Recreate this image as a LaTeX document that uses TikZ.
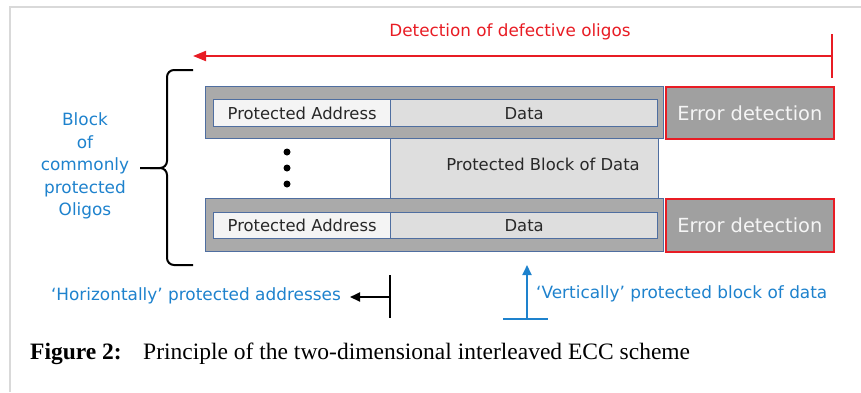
\documentclass[tikz,border=0pt]{standalone}
\usepackage{fontspec}
\setmainfont{Liberation Serif}
\newfontfamily\diagfont{DejaVu Sans}
\usetikzlibrary{arrows.meta}
\definecolor{boxblue}{RGB}{79,110,160}
\definecolor{bandgray}{RGB}{170,170,170}
\definecolor{cellgray}{RGB}{222,222,222}
\definecolor{addrwhite}{RGB}{244,244,244}
\definecolor{errgray}{RGB}{160,160,160}
\definecolor{txtblue}{RGB}{30,130,205}
\definecolor{detred}{RGB}{232,28,36}
\definecolor{celltext}{RGB}{40,40,40}
\begin{document}
\begin{tikzpicture}[x=1pt, y=-1pt,
    cell/.style = {draw=boxblue, line width=1.3pt, inner sep=0pt, anchor=north west, text=celltext,
                   font=\diagfont\fontsize{16.4}{18}\selectfont},
    band/.style = {cell, fill=bandgray, minimum width=458pt},
    errbox/.style = {draw=detred, fill=errgray, line width=1.6pt, inner sep=0pt, anchor=north west,
                   minimum width=168pt, text=white!92!gray, font=\diagfont\fontsize{19.4}{22}\selectfont},
    bluetext/.style = {text=txtblue, inner sep=0pt, font=\diagfont\fontsize{16.9}{22.5}\selectfont}]
    \useasboundingbox (0,0) rectangle (861,392);
    \draw[black!15, line width=1.5pt] (10,392) -- (10,7) -- (861,7);
    % rows
    \node[band, minimum height=52pt] (band1) at (205,86) {};
    \node[band, minimum height=53pt] (band2) at (205,198) {};
    \node[cell, fill=cellgray, minimum width=268pt, minimum height=60pt] (block) at (390,138) {};
    \node[inner sep=0pt, text=celltext, font=\diagfont\fontsize{16.4}{18}\selectfont] (blocklbl) at (543,164) {Protected Block of Data};
    \node[cell, fill=addrwhite, minimum width=177pt, minimum height=27pt] (addr1) at (213,99) {Protected Address};
    \node[cell, fill=cellgray, minimum width=267pt, minimum height=27pt] (data1) at (390,99) {Data};
    \node[cell, fill=addrwhite, minimum width=177pt, minimum height=26pt] (addr2) at (213,212) {Protected Address};
    \node[cell, fill=cellgray, minimum width=267pt, minimum height=26pt] (data2) at (390,212) {Data};
    \node[errbox, minimum height=52pt] (err1) at (665,86) {Error detection};
    \node[errbox, minimum height=53pt] (err2) at (665,198) {Error detection};
    \foreach \i/\y in {1/152,2/168,3/184}
        \node[circle, fill, inner sep=0pt, minimum size=7pt] (dot\i) at (287,\y) {};
    % detection arrow
    \node[text=detred, inner sep=0pt, font=\diagfont\fontsize{16.8}{18}\selectfont] (detlbl) at (510,32) {Detection of defective oligos};
    \coordinate (detR) at (832,56);
    \coordinate (detL) at (193,56);
    \draw[detred, line width=2pt, -{Triangle[length=13pt,width=10pt]}] (detR) -- (detL);
    \draw[detred, line width=2.5pt] (832,34) -- (832,78);
    % brace
    \draw[line width=2pt, rounded corners=7pt] (193,70) -- (167,70) -- (167,168) -- (140,168);
    \draw[line width=2pt, rounded corners=7pt] (193,265) -- (167,265) -- (167,168) -- (150,168);
    \node[bluetext, align=center] (oligos) at (85,166) {Block\\of\\commonly\\protected\\Oligos};
    % horizontal / vertical protection
    \node[bluetext, anchor=east] (horlbl) at (341,296) {‘Horizontally’ protected addresses};
    \coordinate (horB) at (390,297);
    \coordinate (horT) at (350,297);
    \draw[line width=2pt] (390,275) -- (390,318);
    \draw[line width=2pt, -{Triangle[length=10pt,width=9pt]}] (horB) -- (horT);
    \node[bluetext, anchor=west] (verlbl) at (536,294) {‘Vertically’ protected block of data};
    \coordinate (verB) at (527,319);
    \coordinate (verT) at (527,265);
    \draw[txtblue, line width=2pt] (503,319) -- (548,319);
    \draw[txtblue, line width=2pt, -{Triangle[length=10pt,width=9pt]}] (verB) -- (verT);
    % caption
    \node[anchor=west, inner sep=0pt, font=\bfseries\fontsize{23.5}{26}\selectfont] (figno) at (30,354) {Figure 2:};
    \node[anchor=west, inner sep=0pt, font=\fontsize{23.5}{26}\selectfont] (figtxt) at (143,354) {Principle of the two-dimensional interleaved ECC scheme};
\end{tikzpicture}
\end{document}
